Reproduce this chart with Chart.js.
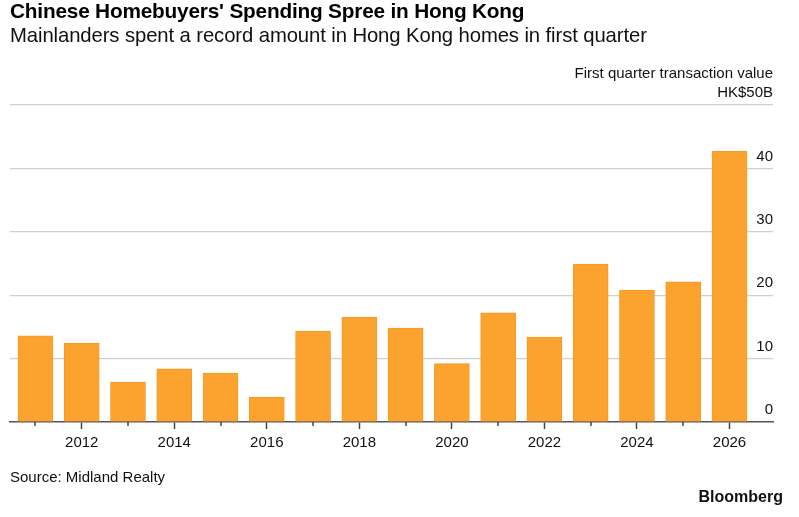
<!DOCTYPE html>
<html>
<head>
<meta charset="utf-8">
<script src="https://cdn.jsdelivr.net/npm/chart.js@4"></script>
<style>
  body { margin: 0; background: #fff; font-family: "Liberation Sans", Arial, sans-serif; }
  #wrap { position: relative; width: 799px; height: 517px; }
  canvas { position: absolute; left: 0; top: 0; }
  .txt { position: absolute; white-space: nowrap; color: #000; }
  #title { left: 10px; top: -1px; font-size: 20.8px; font-weight: bold; letter-spacing: -0.2px; }
  #subtitle { left: 10px; top: 24px; font-size: 20.3px; color: #111; letter-spacing: -0.1px; }
  #unit { right: 26px; top: 64px; font-size: 15px; color: #111; text-align: right; }
  #source { left: 10px; top: 468px; font-size: 15px; color: #111; }
  #brand { right: 16px; top: 488px; font-size: 16px; font-weight: bold; color: #111; }
</style>
</head>
<body>
<div id="wrap">
  <canvas id="chart" width="799" height="517"></canvas>
  <div class="txt" id="title">Chinese Homebuyers' Spending Spree in Hong Kong</div>
  <div class="txt" id="subtitle">Mainlanders spent a record amount in Hong Kong homes in first quarter</div>
  <div class="txt" id="unit">First quarter transaction value</div>
  <div class="txt" id="source">Source: Midland Realty</div>
  <div class="txt" id="brand">Bloomberg</div>
</div>
<script>
// first quarter values, HK$ billions
const years = [2011, 2012, 2013, 2014, 2015, 2016, 2017, 2018, 2019, 2020, 2021, 2022, 2023, 2024, 2025, 2026];
const values = [13.6, 12.4, 6.3, 8.4, 7.7, 3.9, 14.3, 16.5, 14.8, 9.2, 17.2, 13.4, 24.9, 20.8, 22.1, 42.7];
const yTicks = [0, 10, 20, 30, 40, 50];

// short tick marks for the odd years
const minorTicks = {
  id: 'minorTicks',
  afterDraw(chart) {
    const x = chart.scales.x;
    const ctx = chart.ctx;
    ctx.save();
    ctx.strokeStyle = '#444';
    ctx.lineWidth = 1.5;
    years.forEach(yr => {
      if (yr % 2 === 0) return;
      const px = Math.round(x.getPixelForValue(yr));
      ctx.beginPath();
      ctx.moveTo(px, x.top);
      ctx.lineTo(px, x.top + 4);
      ctx.stroke();
    });
    ctx.restore();
  }
};

new Chart(document.getElementById('chart').getContext('2d'), {
  type: 'bar',
  data: {
    datasets: [{
      data: years.map((yr, i) => ({ x: yr, y: values[i] })),
      backgroundColor: '#fca22f',
      borderColor: '#f89a22',
      borderWidth: 1,
      barThickness: 35
    }]
  },
  options: {
    responsive: false,
    animation: false,
    layout: { padding: { left: 10, right: 26, top: 105, bottom: 60 } },
    plugins: { legend: { display: false }, tooltip: { enabled: false } },
    scales: {
      x: {
        type: 'linear',
        offset: false,
        min: 2010.45,
        max: 2026.94,
        afterBuildTicks: axis => { axis.ticks = years.filter(y => y % 2 === 0).map(v => ({ value: v })); },
        ticks: {
          callback: v => String(v),
          color: '#111',
          font: { family: '"Liberation Sans", Arial, sans-serif', size: 15 },
          padding: 5,
          maxRotation: 0
        },
        grid: { drawOnChartArea: false, offset: false, tickLength: 7, tickColor: '#444', tickWidth: 1.5 },
        border: { display: true, color: '#555', width: 1.5 }
      },
      y: {
        position: 'right',
        min: 0,
        max: 50,
        afterBuildTicks: axis => { axis.ticks = yTicks.map(v => ({ value: v })); },
        ticks: {
          mirror: true,
          padding: 0,
          labelOffset: -12,
          color: '#111',
          font: { family: '"Liberation Sans", Arial, sans-serif', size: 15 },
          callback: v => v === 50 ? 'HK$50B' : String(v)
        },
        grid: {
          drawTicks: false,
          color: ctx => ctx.tick && ctx.tick.value === 0 ? 'rgba(0,0,0,0)' : '#d0d0d0',
          lineWidth: 1.2
        },
        border: { display: false }
      }
    }
  },
  plugins: [minorTicks]
});
</script>
</body>
</html>
